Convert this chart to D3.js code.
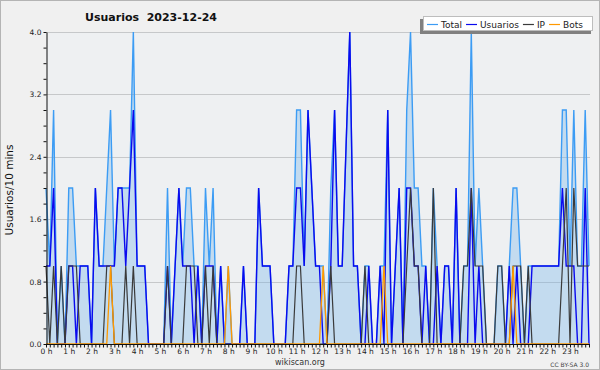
<!DOCTYPE html>
<html>
<head>
<meta charset="utf-8">
<script src="https://cdn.jsdelivr.net/npm/d3@7"></script>
<style>
  html, body { margin: 0; padding: 0; background: #f0f0f0; }
  svg { display: block; }
  text { font-family: "DejaVu Sans", sans-serif; }
</style>
</head>
<body>
<svg id="chart" width="600" height="370"></svg>
<script>
// ---- data (10-minute slots, 00:00 .. 23:50) ----
const title = "Usuarios  2023-12-24";
const yLabel = "Usuarios/10 mins";
const seriesNames = ["Total", "Usuarios", "IP", "Bots"];
const hourLabels = d3.range(24).map(h => h + " h");
const yTickLabels = ["0.0", "0.8", "1.6", "2.4", "3.2", "4.0"];

const total = [
  2,1,3,0,1,0,2,2,1,1, 1,1,0,2,1,1,2,3,1,2, 2,2,2,4,1,1,1,0,0,0,
  0,0,2,0,1,2,1,2,2,1, 1,0,2,1,2,0,1,0,1,0, 0,0,1,0,0,0,2,1,1,1,
  0,0,0,0,1,1,3,3,1,3, 2,1,1,1,0,2,3,1,1,2.5, 4,1,1,0,1,1,0,0,1,1,
  3,0,1,2,0,3,4,2,2,1, 1,0,2,1,0,1,1,0,2,0, 1,1,4,1,2,1,0,0,0,1,
  1,0,1,2,2,1,0,1,1,1, 1,1,1,1,1,1,3,3,1,3, 1,1,3,1
];
const usuarios = [
  1,1,2,0,0,0,1,1,0,1, 1,1,0,2,1,1,1,1,1,2, 2,1,2,3,1,1,1,0,0,0,
  0,0,1,0,1,2,1,1,1,0, 1,0,1,1,1,0,1,0,0,0, 0,0,1,0,0,0,2,1,1,1,
  0,0,0,0,1,1,2,2,1,3, 2,1,1,0,0,1,3,1,1,2.5, 4,1,1,0,0,1,0,0,1,0,
  3,0,1,2,0,2,2,1,1,0, 1,0,0,1,0,1,1,0,2,0, 0,0,2,0,1,0,0,0,0,0,
  0,0,1,0,1,0,0,0,1,1, 1,1,1,1,1,1,2,1,1,1, 0,0,2,0
];
const ip = [
  1,0,1,0,1,0,1,1,1,0, 0,0,0,0,0,0,1,1,0,0, 0,1,0,1,0,0,0,0,0,0,
  0,0,1,0,0,0,0,1,1,1, 0,0,1,0,1,0,0,0,0,0, 0,0,0,0,0,0,0,0,0,0,
  0,0,0,0,0,0,1,1,0,0, 0,0,0,0,0,1,0,0,0,0, 0,0,0,0,1,0,0,0,0,0,
  0,0,0,0,0,1,2,1,1,0, 0,0,2,0,0,0,0,0,0,0, 1,1,2,1,1,1,0,0,0,1,
  1,0,0,1,1,1,0,1,0,0, 0,0,0,0,0,0,1,2,0,2, 1,1,1,1
];
const bots = [
  0,0,0,0,0,0,0,0,0,0, 0,0,0,0,0,0,0,1,0,0, 0,0,0,0,0,0,0,0,0,0,
  0,0,0,0,0,0,0,0,0,0, 0,0,0,0,0,0,0,0,1,0, 0,0,0,0,0,0,0,0,0,0,
  0,0,0,0,0,0,0,0,0,0, 0,0,0,1,0,0,0,0,0,0, 0,0,0,0,0,0,0,0,0,1,
  0,0,0,0,0,0,0,0,0,0, 0,0,0,0,0,0,0,0,0,0, 0,0,0,0,0,0,0,0,0,0,
  0,0,0,1,0,0,0,0,0,0, 0,0,0,0,0,0,0,0,0,0, 0,0,0,0
];

// ---- layout ----
const W = 600, H = 370;
const L = 46, R = 589, T = 32, B = 344;
const svg = d3.select("#chart");

svg.append("rect").attr("x", 0.5).attr("y", 0.5).attr("width", W - 1).attr("height", H - 1)
  .attr("fill", "#f0f0f0").attr("stroke", "#b4b4b4");

const x = d3.scaleLinear().domain([0, 1430]).range([L, R]);   // minutes
const y = d3.scaleLinear().domain([0, 4]).range([B, T]);
const xi = i => x(i * 10);

svg.append("rect").attr("x", L).attr("y", T).attr("width", 590 - L).attr("height", B - T)
  .attr("fill", "#eef0f2");

// grid
const majors = yTickLabels.map(Number);
svg.append("g").selectAll("line").data(majors.filter(v => v > 0)).join("line")
  .attr("x1", L).attr("x2", 590).attr("y1", d => Math.round(y(d)) + 0.5).attr("y2", d => Math.round(y(d)) + 0.5)
  .attr("stroke", "#c6c8ca").attr("stroke-width", 1);

// area for total
const area = d3.area().x((d, i) => xi(i)).y0(y(0)).y1(d => y(d));
svg.append("path").datum(total).attr("d", area).attr("fill", "rgba(110,175,235,0.33)");

const line = d3.line().x((d, i) => xi(i)).y(d => y(d));
const styles = [
  { data: total, color: "#3c9cf4", w: 1.4 },
  { data: usuarios, color: "#0a0aee", w: 1.4 },
  { data: ip, color: "#3a3a3a", w: 1.2 },
  { data: bots, color: "#ff9900", w: 1.3 }
];
styles.forEach(s => {
  svg.append("path").datum(s.data).attr("d", line).attr("fill", "none")
    .attr("stroke", s.color).attr("stroke-width", s.w).attr("stroke-linejoin", "miter");
});

// y axis
const yAxis = d3.axisLeft(y)
  .tickValues(d3.range(0, 21).map(k => k * 0.2))
  .tickSize(3).tickSizeOuter(0).tickPadding(2)
  .tickFormat(d => {
    const lab = yTickLabels.find(t => Math.abs(Number(t) - d) < 1e-6);
    return lab || "";
  });
const gy = svg.append("g").attr("transform", `translate(${L + 0.5},0)`).call(yAxis);
gy.selectAll("text").attr("font-size", "7.5px").attr("fill", "#222").attr("font-family", "DejaVu Sans, sans-serif");
gy.selectAll("line").attr("stroke", "#111");
gy.select(".domain").attr("stroke", "#111");

// x axis
const xAxis = d3.axisBottom(x)
  .tickValues(d3.range(0, 1440, 10))
  .tickSize(3).tickSizeOuter(0).tickPadding(1)
  .tickFormat(d => d % 60 === 0 ? hourLabels[d / 60] : "");
const gx = svg.append("g").attr("transform", `translate(0,${B + 0.5})`).call(xAxis);
gx.select(".domain").attr("d", `M${L},0H590`).attr("stroke", "#111");
gx.selectAll("line").attr("stroke", "#111");
gx.selectAll("text").attr("font-size", "7.5px").attr("fill", "#222").attr("font-family", "DejaVu Sans, sans-serif");

// title
svg.append("text").attr("x", 151).attr("y", 21).attr("text-anchor", "middle")
  .attr("font-size", "11px").attr("font-weight", "bold").attr("fill", "#111")
  .style("white-space", "pre").text(title);

// y label
svg.append("text").attr("transform", "translate(13,190) rotate(-90)").attr("text-anchor", "middle")
  .attr("font-size", "10.5px").attr("fill", "#111").text(yLabel);

// footer
svg.append("text").attr("x", 300).attr("y", 365).attr("text-anchor", "middle")
  .attr("font-size", "8px").attr("fill", "#333").text("wikiscan.org");
svg.append("text").attr("x", 589).attr("y", 367).attr("text-anchor", "end")
  .attr("font-size", "6px").attr("fill", "#444").text("CC BY-SA 3.0");

// legend
const lg = svg.append("g");
lg.append("rect").attr("x", 420).attr("y", 19).attr("width", 171).attr("height", 15).attr("fill", "#808080");
lg.append("rect").attr("x", 423.5).attr("y", 16.5).attr("width", 169).attr("height", 14).attr("fill", "#fff").attr("stroke", "#bdbdbd");
let lx = 427;
seriesNames.forEach((n, k) => {
  lg.append("line").attr("x1", lx).attr("x2", lx + 11).attr("y1", 24.5).attr("y2", 24.5)
    .attr("stroke", styles[k].color).attr("stroke-width", 1.2);
  const t = lg.append("text").attr("x", lx + 14).attr("y", 28).attr("font-size", "9px").attr("fill", "#222").text(n);
  lx = lx + 14 + t.node().getComputedTextLength() + 4;
});
</script>
</body>
</html>
